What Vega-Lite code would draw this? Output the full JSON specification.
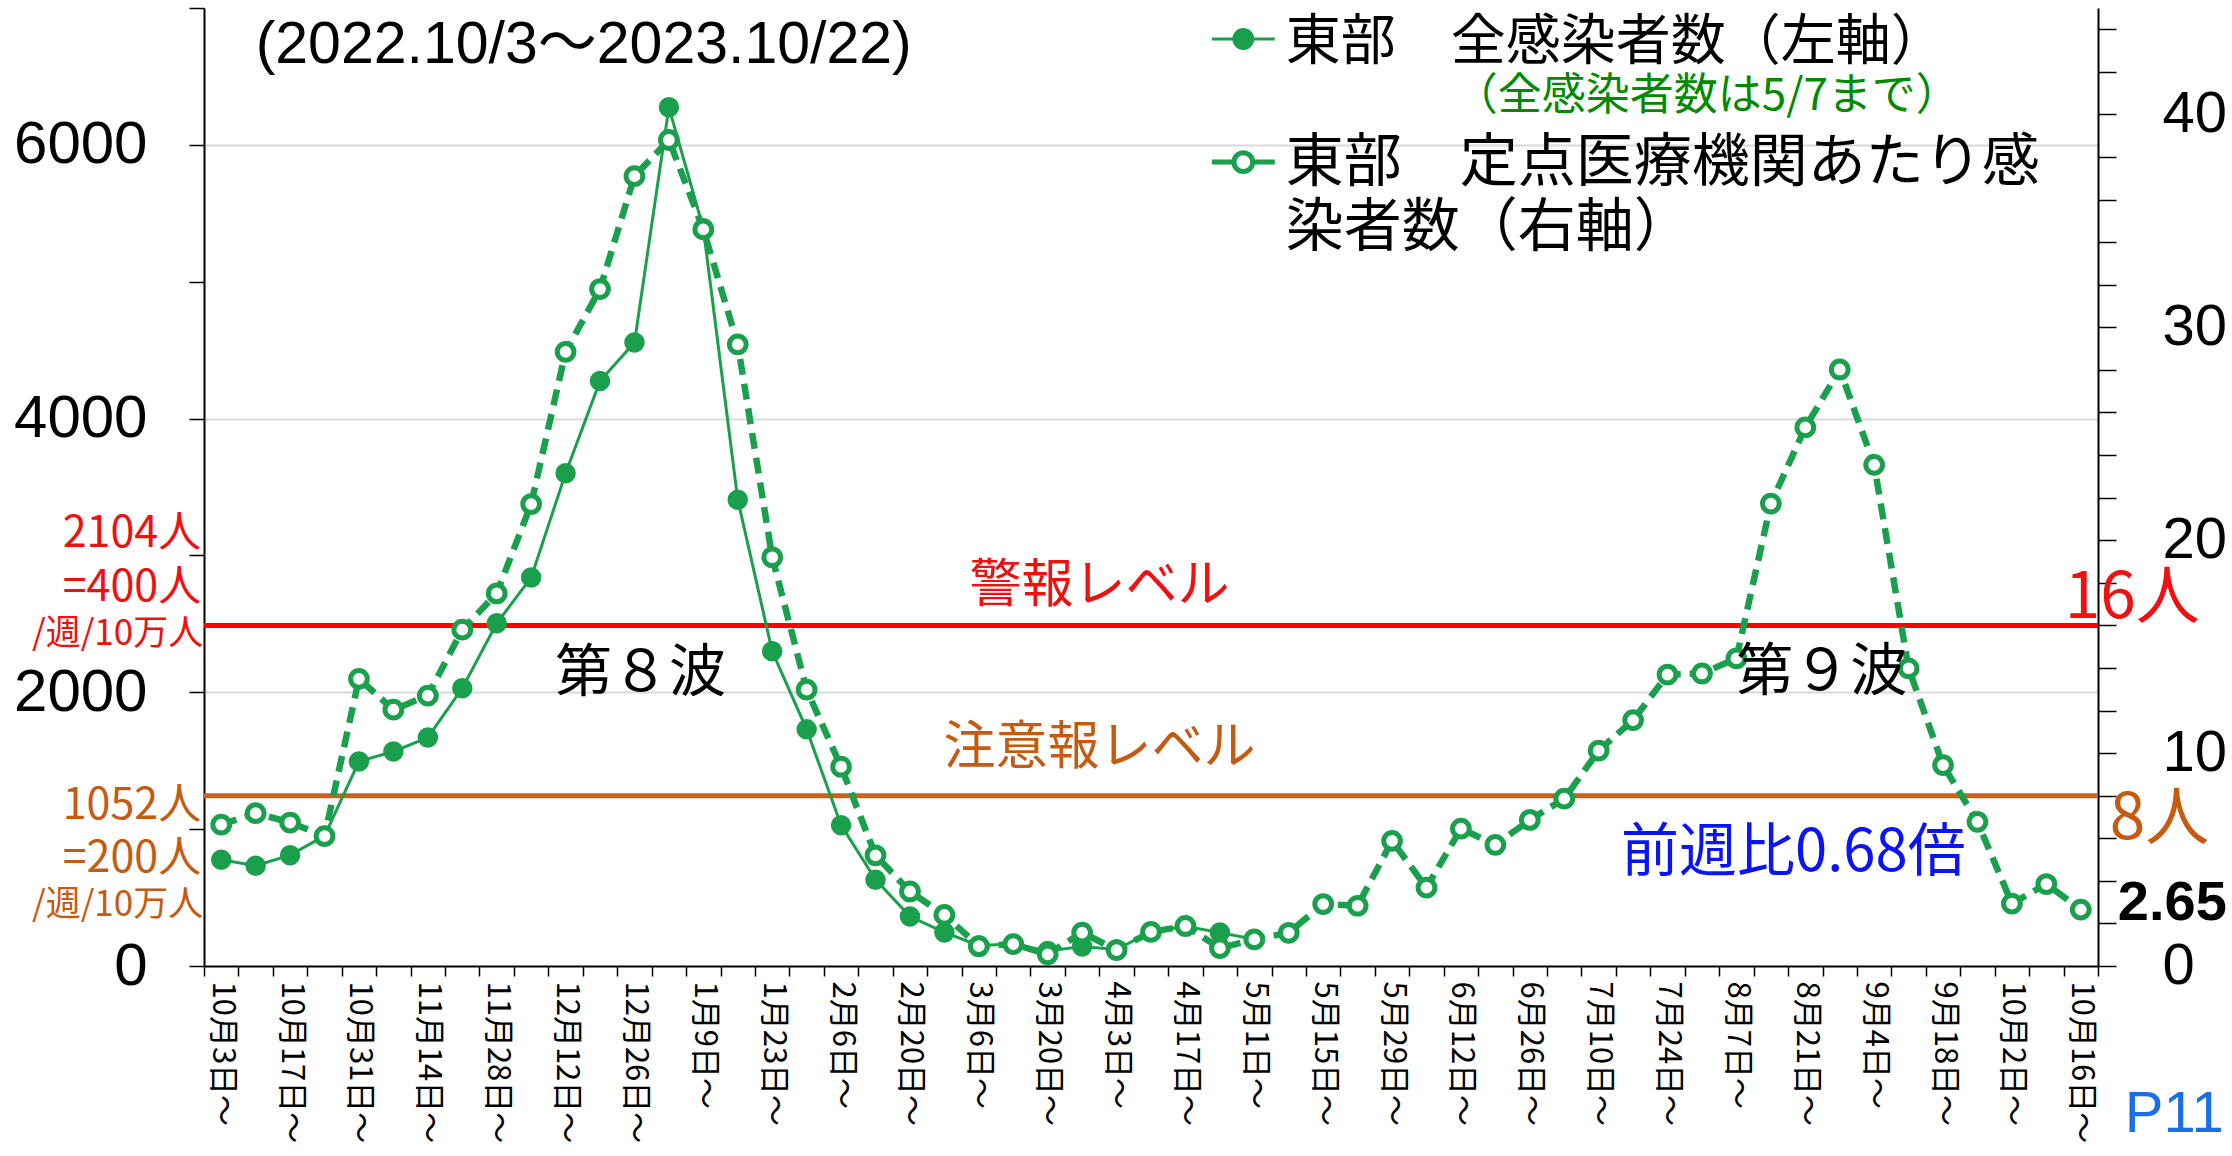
{
  "$schema": "https://vega.github.io/schema/vega-lite/v6.json",
  "width": 1894,
  "height": 958,
  "autosize": {"type": "none"},
  "padding": {"left": 204, "top": 8, "right": 134, "bottom": 190},
  "background": "white",
  "config": {"view": {"stroke": null}},
  "datasets": {
    "weeks": [
      {"週": "10月3日～", "全感染者数": 777, "定点あたり": 6.64},
      {"週": "10月10日～", "全感染者数": 733, "定点あたり": 7.18},
      {"週": "10月17日～", "全感染者数": 810, "定点あたり": 6.74},
      {"週": "10月24日～", "全感染者数": 951, "定点あたり": 6.1},
      {"週": "10月31日～", "全感染者数": 1495, "定点あたり": 13.49},
      {"週": "11月7日～", "全感染者数": 1567, "定点あたり": 12.04},
      {"週": "11月14日～", "全感染者数": 1670, "定点あたり": 12.7},
      {"週": "11月21日～", "全感染者数": 2029, "定点あたり": 15.8},
      {"週": "11月28日～", "全感染者数": 2504, "定点あたり": 17.5},
      {"週": "12月5日～", "全感染者数": 2838, "定点あたり": 21.7},
      {"週": "12月12日～", "全感染者数": 3600, "定点あたり": 28.85},
      {"週": "12月19日～", "全感染者数": 4274, "定点あたり": 31.8},
      {"週": "12月26日～", "全感染者数": 4555, "定点あたり": 37.1},
      {"週": "1月2日～", "全感染者数": 6274, "定点あたり": 38.8},
      {"週": "1月9日～", "全感染者数": 5390, "定点あたり": 34.6},
      {"週": "1月16日～", "全感染者数": 3407, "定点あたり": 29.2},
      {"週": "1月23日～", "全感染者数": 2299, "定点あたり": 19.2},
      {"週": "1月30日～", "全感染者数": 1729, "定点あたり": 12.98},
      {"週": "2月6日～", "全感染者数": 1029, "定点あたり": 9.36},
      {"週": "2月13日～", "全感染者数": 631, "定点あたり": 5.2},
      {"週": "2月20日～", "全感染者数": 361, "定点あたり": 3.5},
      {"週": "2月27日～", "全感染者数": 245, "定点あたり": 2.4},
      {"週": "3月6日～", "全感染者数": 150, "定点あたり": 0.93},
      {"週": "3月13日～", "全感染者数": 160, "定点あたり": 1.03},
      {"週": "3月20日～", "全感染者数": 110, "定点あたり": 0.55},
      {"週": "3月27日～", "全感染者数": 143, "定点あたり": 1.57},
      {"週": "4月3日～", "全感染者数": 120, "定点あたり": 0.75},
      {"週": "4月10日～", "全感染者数": 250, "定点あたり": 1.6},
      {"週": "4月17日～", "全感染者数": 290, "定点あたり": 1.88},
      {"週": "4月24日～", "全感染者数": 244, "定点あたり": 0.84},
      {"週": "5月1日～", "全感染者数": 195, "定点あたり": 1.25},
      {"週": "5月8日～", "全感染者数": null, "定点あたり": 1.56},
      {"週": "5月15日～", "全感染者数": null, "定点あたり": 2.91},
      {"週": "5月22日～", "全感染者数": null, "定点あたり": 2.83},
      {"週": "5月29日～", "全感染者数": null, "定点あたり": 5.88},
      {"週": "6月5日～", "全感染者数": null, "定点あたり": 3.68},
      {"週": "6月12日～", "全感染者数": null, "定点あたり": 6.45},
      {"週": "6月19日～", "全感染者数": null, "定点あたり": 5.69},
      {"週": "6月26日～", "全感染者数": null, "定点あたり": 6.86},
      {"週": "7月3日～", "全感染者数": null, "定点あたり": 7.86},
      {"週": "7月10日～", "全感染者数": null, "定点あたり": 10.12},
      {"週": "7月17日～", "全感染者数": null, "定点あたり": 11.55},
      {"週": "7月24日～", "全感染者数": null, "定点あたり": 13.69},
      {"週": "7月31日～", "全感染者数": null, "定点あたり": 13.74},
      {"週": "8月7日～", "全感染者数": null, "定点あたり": 14.45},
      {"週": "8月14日～", "全感染者数": null, "定点あたり": 21.72},
      {"週": "8月21日～", "全感染者数": null, "定点あたり": 25.3},
      {"週": "8月28日～", "全感染者数": null, "定点あたり": 28.02},
      {"週": "9月4日～", "全感染者数": null, "定点あたり": 23.54},
      {"週": "9月11日～", "全感染者数": null, "定点あたり": 13.98},
      {"週": "9月18日～", "全感染者数": null, "定点あたり": 9.44},
      {"週": "9月25日～", "全感染者数": null, "定点あたり": 6.77},
      {"週": "10月2日～", "全感染者数": null, "定点あたり": 2.93},
      {"週": "10月9日～", "全感染者数": null, "定点あたり": 3.85},
      {"週": "10月16日～", "全感染者数": null, "定点あたり": 2.65}
    ]
  },
  "layer": [
    {
      "data": {"values": [{}]},
      "mark": {"type": "rule", "color": "#ff0000", "strokeWidth": 5},
      "encoding": {"y": {"datum": 16, "type": "quantitative", "scale": {"domain": [0, 45], "nice": false}, "axis": null}}
    },
    {
      "data": {"values": [{}]},
      "mark": {"type": "rule", "color": "#c8601e", "strokeWidth": 5},
      "encoding": {"y": {"datum": 8, "type": "quantitative", "scale": {"domain": [0, 45], "nice": false}, "axis": null}}
    },
    {
      "data": {"name": "weeks"},
      "encoding": {
        "x": {
          "field": "週",
          "type": "ordinal",
          "scale": {
            "type": "band",
            "paddingInner": 0,
            "paddingOuter": 0,
            "domain": ["10月3日～","10月10日～","10月17日～","10月24日～","10月31日～","11月7日～","11月14日～","11月21日～","11月28日～","12月5日～","12月12日～","12月19日～","12月26日～","1月2日～","1月9日～","1月16日～","1月23日～","1月30日～","2月6日～","2月13日～","2月20日～","2月27日～","3月6日～","3月13日～","3月20日～","3月27日～","4月3日～","4月10日～","4月17日～","4月24日～","5月1日～","5月8日～","5月15日～","5月22日～","5月29日～","6月5日～","6月12日～","6月19日～","6月26日～","7月3日～","7月10日～","7月17日～","7月24日～","7月31日～","8月7日～","8月14日～","8月21日～","8月28日～","9月4日～","9月11日～","9月18日～","9月25日～","10月2日～","10月9日～","10月16日～"]
          },
          "axis": {
            "title": null,
            "orient": "bottom",
            "tickBand": "extent",
            "tickSize": 10,
            "tickColor": "black",
            "tickWidth": 1.5,
            "domainColor": "black",
            "domainWidth": 2,
            "labelAngle": 90,
            "labelAlign": "left",
            "labelBaseline": "middle",
            "labelFont": "Noto Sans CJK JP",
            "labelFontSize": 31,
            "labelColor": "black",
            "labelPadding": 5,
            "labelOffset": 0,
            "labelOverlap": false,
            "labelLimit": 400,
            "grid": false,
            "labelExpr": "indexof(['10月3日～','10月17日～','10月31日～','11月14日～','11月28日～','12月12日～','12月26日～','1月9日～','1月23日～','2月6日～','2月20日～','3月6日～','3月20日～','4月3日～','4月17日～','5月1日～','5月15日～','5月29日～','6月12日～','6月26日～','7月10日～','7月24日～','8月7日～','8月21日～','9月4日～','9月18日～','10月2日～','10月16日～'], datum.value) >= 0 ? datum.value : ''"
          }
        },
        "y": {
          "field": "全感染者数",
          "type": "quantitative",
          "scale": {"domain": [0, 7000], "nice": false},
          "axis": {
            "orient": "left",
            "title": null,
            "values": [0, 1000, 2000, 3000, 4000, 5000, 6000, 7000],
            "format": "d",
            "labelExpr": "datum.value % 2000 === 0 ? datum.label : ''",
            "labelFont": "Liberation Sans",
            "labelFontSize": 60,
            "labelColor": "black",
            "labelPadding": 42,
            "tickSize": 15,
            "tickColor": "black",
            "tickWidth": 1.5,
            "domainColor": "black",
            "domainWidth": 2,
            "grid": true,
            "gridColor": "#d9d9d9",
            "gridWidth": 2,
            "gridOpacity": {"condition": {"test": "datum.value > 0 && datum.value % 2000 === 0", "value": 1}, "value": 0}
          }
        }
      },
      "layer": [
        {"mark": {"type": "line", "color": "#1aa04c", "strokeWidth": 3}},
        {"mark": {"type": "point", "shape": "circle", "filled": true, "color": "#1aa04c", "size": 420, "opacity": 1}}
      ]
    },
    {
      "data": {"name": "weeks"},
      "encoding": {
        "x": {"field": "週", "type": "ordinal"},
        "y": {
          "field": "定点あたり",
          "type": "quantitative",
          "scale": {"domain": [0, 45], "nice": false},
          "axis": {
            "orient": "right",
            "title": null,
            "values": [0, 2, 4, 6, 8, 10, 12, 14, 16, 18, 20, 22, 24, 26, 28, 30, 32, 34, 36, 38, 40, 42, 44],
            "labelExpr": "datum.value % 10 === 0 ? datum.label : ''",
            "labelFont": "Liberation Sans",
            "labelFontSize": 58,
            "labelColor": "black",
            "labelPadding": 46,
            "tickSize": 18,
            "tickColor": "black",
            "tickWidth": 1.5,
            "domainColor": "black",
            "domainWidth": 2,
            "grid": false
          }
        }
      },
      "layer": [
        {"mark": {"type": "line", "color": "#1aa04c", "strokeWidth": 6.5, "strokeDash": [16, 9]}},
        {"mark": {"type": "point", "shape": "circle", "filled": true, "fill": "white", "stroke": "#1aa04c", "strokeWidth": 5, "size": 280, "opacity": 1}}
      ]
    },
    {
      "data": {"values": [{}]},
      "mark": {"type": "text", "text": "(2022.10/3～2023.10/22)", "font": "Liberation Sans, Noto Sans CJK JP", "fontSize": 59, "color": "black", "align": "left", "baseline": "middle", "dx": 0},
      "encoding": {"x": {"datum": "10月10日～", "type": "ordinal"}, "y": {"datum": 6730, "type": "quantitative", "scale": {"domain": [0, 7000], "nice": false}, "axis": null}}
    },
    {
      "data": {"values": [{}]},
      "mark": {"type": "point", "shape": "M-1,0H-0.3M0.3,0H1M0.3,0A0.3,0.3,0,1,1,-0.3,0A0.3,0.3,0,1,1,0.3,0Z", "size": 3969, "filled": true, "fill": "#1aa04c", "stroke": "#1aa04c", "strokeWidth": 3, "opacity": 1, "xOffset": -11},
      "encoding": {"x": {"datum": "5月1日～", "type": "ordinal"}, "y": {"datum": 6774, "type": "quantitative", "scale": {"domain": [0, 7000], "nice": false}, "axis": null}}
    },
    {
      "data": {"values": [{}]},
      "mark": {"type": "point", "shape": "M-1,0H-0.3M0.3,0H1M0.3,0A0.3,0.3,0,1,1,-0.3,0A0.3,0.3,0,1,1,0.3,0Z", "size": 3969, "filled": true, "fill": "white", "stroke": "#1aa04c", "strokeWidth": 5, "opacity": 1, "xOffset": -11},
      "encoding": {"x": {"datum": "5月1日～", "type": "ordinal"}, "y": {"datum": 5874, "type": "quantitative", "scale": {"domain": [0, 7000], "nice": false}, "axis": null}}
    },
    {
      "data": {"values": [{}]},
      "mark": {"type": "text", "text": "東部　全感染者数（左軸）", "font": "Noto Sans CJK JP", "fontSize": 55, "color": "black", "align": "left", "baseline": "middle", "dx": -3},
      "encoding": {"x": {"datum": "5月8日～", "type": "ordinal"}, "y": {"datum": 6752, "type": "quantitative", "scale": {"domain": [0, 7000], "nice": false}, "axis": null}}
    },
    {
      "data": {"values": [{}]},
      "mark": {"type": "text", "text": "（全感染者数は5/7まで）", "font": "Noto Sans CJK JP", "fontSize": 44, "color": "#008a00", "align": "left", "baseline": "middle", "dx": 165},
      "encoding": {"x": {"datum": "5月8日～", "type": "ordinal"}, "y": {"datum": 6350, "type": "quantitative", "scale": {"domain": [0, 7000], "nice": false}, "axis": null}}
    },
    {
      "data": {"values": [{}]},
      "mark": {"type": "text", "text": "東部　定点医療機関あたり感", "font": "Noto Sans CJK JP", "fontSize": 58, "color": "black", "align": "left", "baseline": "middle", "dx": -3},
      "encoding": {"x": {"datum": "5月8日～", "type": "ordinal"}, "y": {"datum": 5860, "type": "quantitative", "scale": {"domain": [0, 7000], "nice": false}, "axis": null}}
    },
    {
      "data": {"values": [{}]},
      "mark": {"type": "text", "text": "染者数（右軸）", "font": "Noto Sans CJK JP", "fontSize": 58, "color": "black", "align": "left", "baseline": "middle", "dx": -3},
      "encoding": {"x": {"datum": "5月8日～", "type": "ordinal"}, "y": {"datum": 5384, "type": "quantitative", "scale": {"domain": [0, 7000], "nice": false}, "axis": null}}
    },
    {
      "data": {"values": [{}]},
      "mark": {"type": "text", "text": "警報レベル", "font": "Noto Sans CJK JP", "fontSize": 52, "color": "#f01010", "align": "center", "baseline": "middle", "dx": -17},
      "encoding": {"x": {"datum": "4月3日～", "type": "ordinal"}, "y": {"datum": 17.85, "type": "quantitative", "scale": {"domain": [0, 45], "nice": false}, "axis": null}}
    },
    {
      "data": {"values": [{}]},
      "mark": {"type": "text", "text": "注意報レベル", "font": "Noto Sans CJK JP", "fontSize": 52, "color": "#c55a11", "align": "center", "baseline": "middle", "dx": -17},
      "encoding": {"x": {"datum": "4月3日～", "type": "ordinal"}, "y": {"datum": 10.24, "type": "quantitative", "scale": {"domain": [0, 45], "nice": false}, "axis": null}}
    },
    {
      "data": {"values": [{}]},
      "mark": {"type": "text", "text": "第８波", "font": "Noto Sans CJK JP", "fontSize": 57, "color": "black", "align": "center", "baseline": "middle", "dx": 6},
      "encoding": {"x": {"datum": "12月26日～", "type": "ordinal"}, "y": {"datum": 13.7, "type": "quantitative", "scale": {"domain": [0, 45], "nice": false}, "axis": null}}
    },
    {
      "data": {"values": [{}]},
      "mark": {"type": "text", "text": "第９波", "font": "Noto Sans CJK JP", "fontSize": 57, "color": "black", "align": "center", "baseline": "middle", "dx": -18},
      "encoding": {"x": {"datum": "8月28日～", "type": "ordinal"}, "y": {"datum": 13.75, "type": "quantitative", "scale": {"domain": [0, 45], "nice": false}, "axis": null}}
    },
    {
      "data": {"values": [{}]},
      "mark": {"type": "text", "text": "前週比0.68倍", "font": "Noto Sans CJK JP", "fontSize": 58, "color": "#0a14f5", "align": "center", "baseline": "middle", "dx": -12},
      "encoding": {"x": {"datum": "8月21日～", "type": "ordinal"}, "y": {"datum": 5.25, "type": "quantitative", "scale": {"domain": [0, 45], "nice": false}, "axis": null}}
    },
    {
      "data": {"values": [{}]},
      "mark": {"type": "text", "text": "2.65", "font": "Liberation Sans", "fontSize": 56, "fontWeight": "bold", "color": "black", "align": "left", "baseline": "middle", "dx": 37},
      "encoding": {"x": {"datum": "10月16日～", "type": "ordinal"}, "y": {"datum": 2.96, "type": "quantitative", "scale": {"domain": [0, 45], "nice": false}, "axis": null}}
    },
    {
      "data": {"values": [{}]},
      "mark": {"type": "text", "text": "16人", "font": "Noto Sans CJK JP", "fontSize": 64, "color": "#f01010", "align": "left", "baseline": "middle", "dx": -16},
      "encoding": {"x": {"datum": "10月16日～", "type": "ordinal"}, "y": {"datum": 17.24, "type": "quantitative", "scale": {"domain": [0, 45], "nice": false}, "axis": null}}
    },
    {
      "data": {"values": [{}]},
      "mark": {"type": "text", "text": "8人", "font": "Noto Sans CJK JP", "fontSize": 64, "color": "#c55a11", "align": "left", "baseline": "middle", "dx": 29},
      "encoding": {"x": {"datum": "10月16日～", "type": "ordinal"}, "y": {"datum": 6.86, "type": "quantitative", "scale": {"domain": [0, 45], "nice": false}, "axis": null}}
    },
    {
      "data": {"values": [{}]},
      "mark": {"type": "text", "text": "2104人", "font": "Noto Sans CJK JP", "fontSize": 43, "color": "#f01010", "align": "right", "baseline": "middle", "dx": -20},
      "encoding": {"x": {"datum": "10月3日～", "type": "ordinal"}, "y": {"datum": 3160, "type": "quantitative", "scale": {"domain": [0, 7000], "nice": false}, "axis": null}}
    },
    {
      "data": {"values": [{}]},
      "mark": {"type": "text", "text": "=400人", "font": "Noto Sans CJK JP", "fontSize": 43, "color": "#f01010", "align": "right", "baseline": "middle", "dx": -20},
      "encoding": {"x": {"datum": "10月3日～", "type": "ordinal"}, "y": {"datum": 2765, "type": "quantitative", "scale": {"domain": [0, 7000], "nice": false}, "axis": null}}
    },
    {
      "data": {"values": [{}]},
      "mark": {"type": "text", "text": "/週/10万人", "font": "Noto Sans CJK JP", "fontSize": 35, "color": "#f01010", "align": "right", "baseline": "middle", "dx": -18},
      "encoding": {"x": {"datum": "10月3日～", "type": "ordinal"}, "y": {"datum": 2425, "type": "quantitative", "scale": {"domain": [0, 7000], "nice": false}, "axis": null}}
    },
    {
      "data": {"values": [{}]},
      "mark": {"type": "text", "text": "1052人", "font": "Noto Sans CJK JP", "fontSize": 43, "color": "#c55a11", "align": "right", "baseline": "middle", "dx": -20},
      "encoding": {"x": {"datum": "10月3日～", "type": "ordinal"}, "y": {"datum": 1170, "type": "quantitative", "scale": {"domain": [0, 7000], "nice": false}, "axis": null}}
    },
    {
      "data": {"values": [{}]},
      "mark": {"type": "text", "text": "=200人", "font": "Noto Sans CJK JP", "fontSize": 43, "color": "#c55a11", "align": "right", "baseline": "middle", "dx": -20},
      "encoding": {"x": {"datum": "10月3日～", "type": "ordinal"}, "y": {"datum": 783, "type": "quantitative", "scale": {"domain": [0, 7000], "nice": false}, "axis": null}}
    },
    {
      "data": {"values": [{}]},
      "mark": {"type": "text", "text": "/週/10万人", "font": "Noto Sans CJK JP", "fontSize": 35, "color": "#c55a11", "align": "right", "baseline": "middle", "dx": -18},
      "encoding": {"x": {"datum": "10月3日～", "type": "ordinal"}, "y": {"datum": 445, "type": "quantitative", "scale": {"domain": [0, 7000], "nice": false}, "axis": null}}
    },
    {
      "data": {"values": [{}]},
      "mark": {"type": "text", "text": "P11", "font": "Liberation Sans", "fontSize": 58, "color": "#1a6fe8", "align": "left", "baseline": "middle", "dx": 44},
      "encoding": {"x": {"datum": "10月16日～", "type": "ordinal"}, "y": {"datum": -1090, "type": "quantitative", "scale": {"domain": [0, 7000], "nice": false}, "axis": null}}
    }
  ],
  "resolve": {"scale": {"y": "independent"}}
}
